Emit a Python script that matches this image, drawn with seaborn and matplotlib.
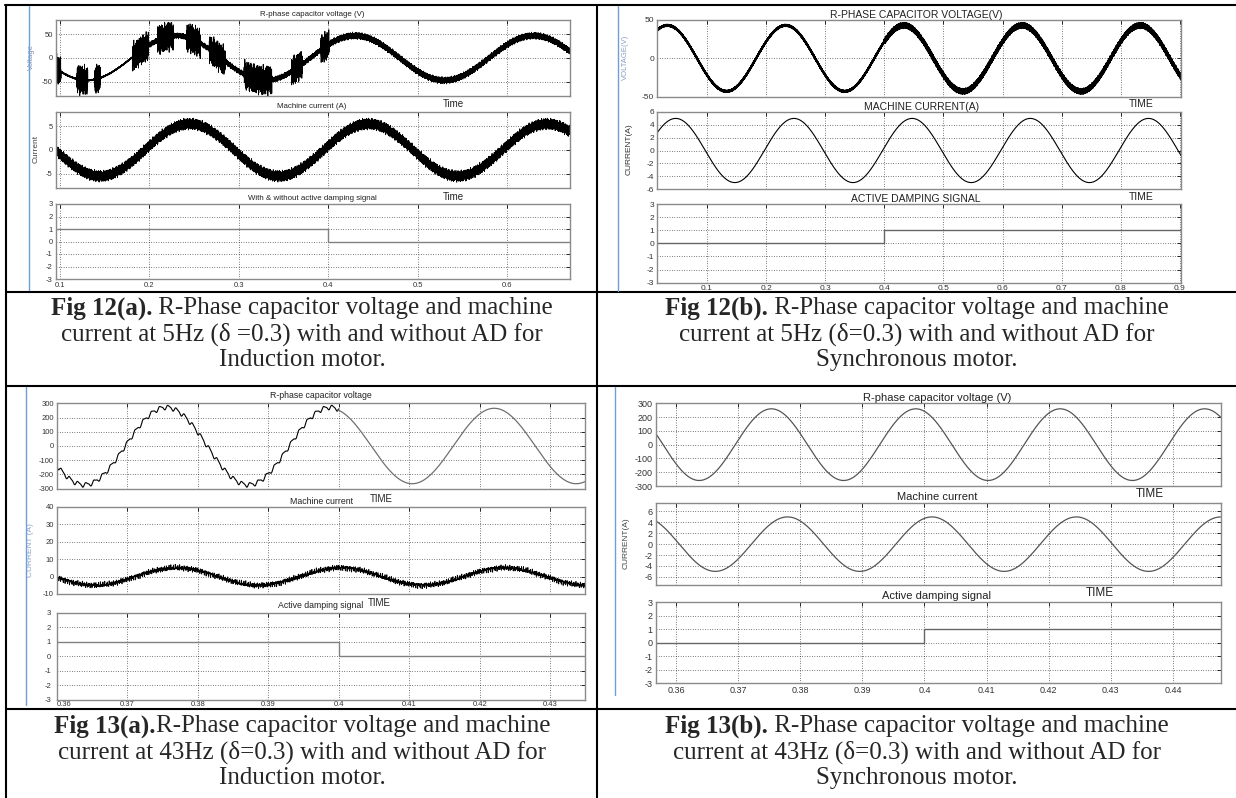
import numpy as np
import matplotlib
matplotlib.use("Agg")
import matplotlib.pyplot as plt
from matplotlib.lines import Line2D
import seaborn as sns

W, H = 1236, 798

# ---------------------------------------------------------------------------
# Waveform values: amplitude, supply frequency (Hz), time of a positive peak (s)
# ---------------------------------------------------------------------------
# Fig 12(a) induction motor, 5 Hz
XLIM_12A = (0.095, 0.67)
XTICKS_12A = [0.1, 0.2, 0.3, 0.4, 0.5, 0.6]
V12A_AMP, V12A_FREQ, V12A_PEAK = 47.0, 5.0, 0.43
I12A_AMP, I12A_FREQ, I12A_PEAK = 5.5, 5.0, 0.245
V12A_BURSTS = [(0.095, 0.101), (0.119, 0.131), (0.139, 0.145), (0.181, 0.199),
               (0.209, 0.227), (0.242, 0.257), (0.267, 0.285), (0.306, 0.337),
               (0.359, 0.371), (0.392, 0.401)]
V12A_RIPPLE = [1.5, 5.0, 6.0, 26.0]     # early, mid, after AD switch, bursts
I12A_RIPPLE = 1.0
AD12A_LEVELS = [1, 0, 0]

# Fig 12(b) synchronous motor, 5 Hz
XLIM_12B = (0.015, 0.902)
XTICKS_12B = [0.1, 0.2, 0.3, 0.4, 0.5, 0.6, 0.7, 0.8, 0.9]
V12B_AMP, V12B_FREQ, V12B_PEAK = 43.0, 5.0, 0.033
I12B_AMP, I12B_FREQ, I12B_PEAK = 5.0, 5.0, 0.047
V12B_RIPPLE = [1.0, 3.0]
AD12B_LEVELS = [0, 1, 1]

# Fig 13(a) induction motor, 43 Hz
XLIM_13A = (0.36, 0.435)
XTICKS_13A = [0.36, 0.37, 0.38, 0.39, 0.40, 0.41, 0.42, 0.43]
V13A_AMP, V13A_AMP_AD, V13A_FREQ, V13A_PEAK = 272.0, 265.0, 43.0, 0.3988
V13A_STEP_AMP, V13A_STEP_FREQ = 14.0, 860.0
I13A_AMP, I13A_FREQ, I13A_PEAK = 5.0, 43.0, 0.4003
I13A_RIPPLE = 1.6
AD13A_LEVELS = [1, 0, 0]

# Fig 13(b) synchronous motor, 43 Hz
XLIM_13B = (0.3567, 0.4477)
XTICKS_13B = [0.36, 0.37, 0.38, 0.39, 0.40, 0.41, 0.42, 0.43, 0.44]
V13B_AMP, V13B_FREQ, V13B_PEAK = 260.0, 43.0, 0.3986
I13B_AMP, I13B_FREQ, I13B_PEAK = 5.0, 43.0, 0.4012
AD13B_LEVELS = [0, 1, 1]

AD_SWITCH = 0.4

# PWM switching ripple components (Hz, rad)
RIPPLE_FREQS = [2970.0, 4130.0, 6610.0, 9870.0]
RIPPLE_PHASES = [0.0, 1.3, 2.1, 0.7]
CURRENT_RIPPLE_FREQS = [3100.0, 4700.0, 7900.0, 11300.0]

CAPTIONS = [
    ("Fig 12(a).", " R-Phase capacitor voltage and machine",
     "current at 5Hz (\u03b4 =0.3) with and without AD for", "Induction motor."),
    ("Fig 12(b).", " R-Phase capacitor voltage and machine",
     "current at 5Hz (\u03b4=0.3) with and without AD for", "Synchronous motor."),
    ("Fig 13(a).", "R-Phase capacitor voltage and machine",
     "current at 43Hz (\u03b4=0.3) with and without AD for", "Induction motor."),
    ("Fig 13(b).", " R-Phase capacitor voltage and machine",
     "current at 43Hz (\u03b4=0.3) with and without AD for", "Synchronous motor."),
]

# ---------------------------------------------------------------------------
sns.set_style("white")
plt.rcParams["font.family"] = ["Liberation Sans", "DejaVu Sans"]
plt.rcParams["axes.unicode_minus"] = False

fig = plt.figure(figsize=(W / 100, H / 100), dpi=100)
fig.patch.set_facecolor("white")


def fx(x):
    return x / W


def fy(y):
    return 1 - y / H


def sine(t, amp, freq, peak):
    return amp * np.cos(2 * np.pi * freq * (t - peak))


def ripple(t, freqs=RIPPLE_FREQS, phases=RIPPLE_PHASES):
    r = sum(np.sin(2 * np.pi * f * t + p) for f, p in zip(freqs, phases))
    return r / 3.0


def make_axes(left, top, right, bottom, tick_size):
    ax = fig.add_axes([fx(left), fy(bottom), (right - left) / W, (bottom - top) / H])
    ax.set_facecolor("white")
    for s in ax.spines.values():
        s.set_color("#8a8a8a")
        s.set_linewidth(1.0)
    ax.tick_params(direction="in", top=True, right=True, length=3, width=0.7,
                   labelsize=tick_size, pad=2, colors="#222222",
                   labelcolor="#333333")
    ax.grid(True, linestyle=(0, (1, 2.5)), color="black", linewidth=0.5)
    return ax


def style(ax, xlim, xticks, ylim, yticks, show_x, xpad=2):
    ax.set_xlim(*xlim)
    ax.set_ylim(*ylim)
    ax.set_xticks(xticks)
    ax.set_yticks(yticks)
    ax.set_yticklabels([f"{v:g}" for v in yticks])
    if show_x:
        ax.set_xticklabels([f"{v:g}" for v in xticks])
        ax.tick_params(axis="x", pad=xpad)
    else:
        ax.set_xticklabels([])
    ax.set_xlabel("")
    ax.set_ylabel("")


def line(ax, x, y, color="black", lw=0.7, **kw):
    sns.lineplot(x=x, y=y, ax=ax, color=color, linewidth=lw,
                 estimator=None, sort=False, legend=False, **kw)


def step(ax, xlim, levels, color="#777777"):
    xs = [xlim[0], AD_SWITCH, xlim[1]]
    line(ax, xs, levels, color=color, lw=1.0, drawstyle="steps-post")


def label(x, y, s, size=5.5, color="#222222", **kw):
    fig.text(fx(x), fy(y), s, ha="center", va="center", fontsize=size,
             color=color, **kw)


# ----------------------------- Fig 12(a) -----------------------------------
L, R, TS = 55.5, 569.5, 5.5
t = np.linspace(*XLIM_12A, 40000)
env = np.where(t < 0.2, V12A_RIPPLE[0], V12A_RIPPLE[1])
env[t >= AD_SWITCH] = V12A_RIPPLE[2]
for a, b in V12A_BURSTS:
    env[(t >= a) & (t < b)] = V12A_RIPPLE[3]
v = sine(t, V12A_AMP, V12A_FREQ, V12A_PEAK) + env * ripple(t)
i = sine(t, I12A_AMP, I12A_FREQ, I12A_PEAK) + I12A_RIPPLE * ripple(t + 0.013)

ax = make_axes(L, 20, R, 96, TS)
line(ax, t, v, lw=0.6)
style(ax, XLIM_12A, XTICKS_12A, (-80, 80), [-50, 0, 50], False)
ax = make_axes(L, 112, R, 188, TS)
line(ax, t, i, lw=0.6)
style(ax, XLIM_12A, XTICKS_12A, (-8, 8), [-5, 0, 5], False)
ax = make_axes(L, 204, R, 279, TS)
step(ax, XLIM_12A, AD12A_LEVELS, color="#808080")
style(ax, XLIM_12A, XTICKS_12A, (-3, 3), [-3, -2, -1, 0, 1, 2, 3], True)

label(312, 14, "R-phase capacitor voltage (V)", size=5.7)
label(312, 106, "Machine current (A)", size=5.7)
label(312, 198, "With & without active damping signal", size=5.7)
label(453, 104, "Time", size=7)
label(453, 197, "Time", size=7)
label(31, 57, "Voltage", size=5.5, color="#7d90b5", rotation=90)
label(36, 149, "Current", size=6, color="#444444", rotation=90)

# ----------------------------- Fig 12(b) -----------------------------------
L, R, TS = 656.8, 1181.0, 6
t = np.linspace(*XLIM_12B, 40000)
env = np.where(t < AD_SWITCH, V12B_RIPPLE[0], V12B_RIPPLE[1])
v = sine(t, V12B_AMP, V12B_FREQ, V12B_PEAK) + env * ripple(t)
i = sine(t, I12B_AMP, I12B_FREQ, I12B_PEAK)

ax = make_axes(L, 20, R, 96.7, TS)
line(ax, t, v, lw=1.2)
style(ax, XLIM_12B, XTICKS_12B, (-50, 50), [-50, 0, 50], False)
ax = make_axes(L, 112, R, 189, TS)
line(ax, t, i, lw=0.8)
style(ax, XLIM_12B, XTICKS_12B, (-6, 6), [-6, -4, -2, 0, 2, 4, 6], False)
ax = make_axes(L, 204, R, 282.7, TS)
step(ax, XLIM_12B, AD12B_LEVELS, color="#666666")
style(ax, XLIM_12B, XTICKS_12B, (-3, 3), [-3, -2, -1, 0, 1, 2, 3], True)

label(916, 15, "R-PHASE CAPACITOR VOLTAGE(V)", size=7.5)
label(922, 107, "MACHINE CURRENT(A)", size=7.5)
label(916, 199, "ACTIVE DAMPING SIGNAL", size=7.5)
label(1141.6, 104, "TIME", size=7.5)
label(1141.6, 197, "TIME", size=7.5)
label(625, 57, "VOLTAGE(V)", size=5.5, color="#8b9cc4", rotation=90)
label(629, 149, "CURRENT(A)", size=6, color="#333333", rotation=90)

# ----------------------------- Fig 13(a) -----------------------------------
L, R, TS = 56.6, 585.5, 5.5
t = np.linspace(*XLIM_13A, 20000)
pre = t < AD_SWITCH
stair = V13A_STEP_AMP * (np.sin(2 * np.pi * V13A_STEP_FREQ * t)
                         + 0.35 * np.sin(4 * np.pi * V13A_STEP_FREQ * t + 0.6))
v_pre = sine(t, V13A_AMP, V13A_FREQ, V13A_PEAK) + stair
v_post = sine(t, V13A_AMP_AD, V13A_FREQ, V13A_PEAK)
i = (sine(t, I13A_AMP, I13A_FREQ, I13A_PEAK)
     + I13A_RIPPLE * ripple(t, CURRENT_RIPPLE_FREQS))

ax = make_axes(L, 403.3, R, 488.7, TS)
line(ax, t[pre], v_pre[pre], lw=0.8)
k = t >= AD_SWITCH - 0.0002
line(ax, t[k], v_post[k], color="#707070", lw=0.9)
style(ax, XLIM_13A, XTICKS_13A, (-300, 300), [-300, -200, -100, 0, 100, 200, 300], False)
ax = make_axes(L, 506.7, R, 594, TS)
line(ax, t, i, lw=0.6)
style(ax, XLIM_13A, XTICKS_13A, (-10, 40), [-10, 0, 10, 20, 30, 40], False)
ax = make_axes(L, 612.7, R, 700, TS)
step(ax, XLIM_13A, AD13A_LEVELS, color="#808080")
style(ax, XLIM_13A, XTICKS_13A, (-3, 3), [-3, -2, -1, 0, 1, 2, 3], True, xpad=1)
ax.tick_params(axis="y", pad=4)
ax.get_xticklabels()[0].set_horizontalalignment("left")

label(321, 396, "R-phase capacitor voltage", size=6.3)
label(321, 501, "Machine current", size=6.3)
label(321, 606, "Active damping signal", size=6.3)
label(381, 499, "TIME", size=7)
label(379, 603, "TIME", size=7)
label(30, 550, "CURRENT (A)", size=6, color="#8ea3c9", rotation=90)

# ----------------------------- Fig 13(b) -----------------------------------
L, R, TS = 655.6, 1220.7, 6.5
t = np.linspace(*XLIM_13B, 20000)
v = sine(t, V13B_AMP, V13B_FREQ, V13B_PEAK)
i = sine(t, I13B_AMP, I13B_FREQ, I13B_PEAK)

ax = make_axes(L, 403.3, R, 486, TS)
line(ax, t, v, color="#555555", lw=0.9)
style(ax, XLIM_13B, XTICKS_13B, (-300, 300), [-300, -200, -100, 0, 100, 200, 300], False)
ax = make_axes(L, 503.3, R, 585, TS)
line(ax, t, i, color="#555555", lw=0.9)
style(ax, XLIM_13B, XTICKS_13B, (-7.5, 7.5), [-6, -4, -2, 0, 2, 4, 6], False)
ax = make_axes(L, 602.3, R, 683.3, TS)
step(ax, XLIM_13B, AD13B_LEVELS, color="#666666")
style(ax, XLIM_13B, XTICKS_13B, (-3, 3), [-3, -2, -1, 0, 1, 2, 3], True)

label(937, 398, "R-phase capacitor voltage (V)", size=8)
label(937, 497, "Machine current", size=8)
label(937, 596, "Active damping signal", size=8)
label(1150, 494, "TIME", size=8.5)
label(1100, 593, "TIME", size=8.5)
label(626, 543, "CURRENT(A)", size=6, color="#444444", rotation=90)

# ------------------------- table frame -------------------------------------
def rule(x1, y1, x2, y2, color="black", lw=1.5):
    fig.add_artist(Line2D([fx(x1), fx(x2)], [fy(y1), fy(y2)], color=color,
                          linewidth=lw, transform=fig.transFigure, zorder=10))


rule(5, 5, W, 5)
rule(6, 5, 6, H)
rule(597, 5, 597, H)
for yy in (292, 386, 709):
    rule(6, yy, W, yy)

# panel edges
for x, y1, y2 in ((28.5, 6, 290), (618, 6, 291), (26, 387, 705), (615, 387, 695)):
    rule(x, y1, x, y2, color="#6e9fd6", lw=1.0)

# ------------------------- captions ----------------------------------------
renderer = fig.canvas.get_renderer()
serif = ["Liberation Serif", "DejaVu Serif"]
CAP_SIZE = 18


def caption(cx, ys, bold, rest, line2, line3):
    t1 = fig.text(0, fy(ys[0]), bold, fontsize=CAP_SIZE, fontweight="bold",
                  family=serif, va="center", ha="left")
    t2 = fig.text(0, fy(ys[0]), rest, fontsize=CAP_SIZE, family=serif,
                  va="center", ha="left")
    w1 = t1.get_window_extent(renderer).width
    w2 = t2.get_window_extent(renderer).width
    x0 = cx - (w1 + w2) / 2
    t1.set_x(fx(x0))
    t2.set_x(fx(x0 + w1))
    for y, s in zip(ys[1:], (line2, line3)):
        fig.text(fx(cx), fy(y), s, fontsize=CAP_SIZE, family=serif,
                 va="center", ha="center")


caption(302, (308, 334, 360), *CAPTIONS[0])
caption(917, (308, 334, 360), *CAPTIONS[1])
caption(302, (726, 752, 778), *CAPTIONS[2])
caption(917, (726, 752, 778), *CAPTIONS[3])

fig.savefig("out.png", dpi=100, facecolor="white")
